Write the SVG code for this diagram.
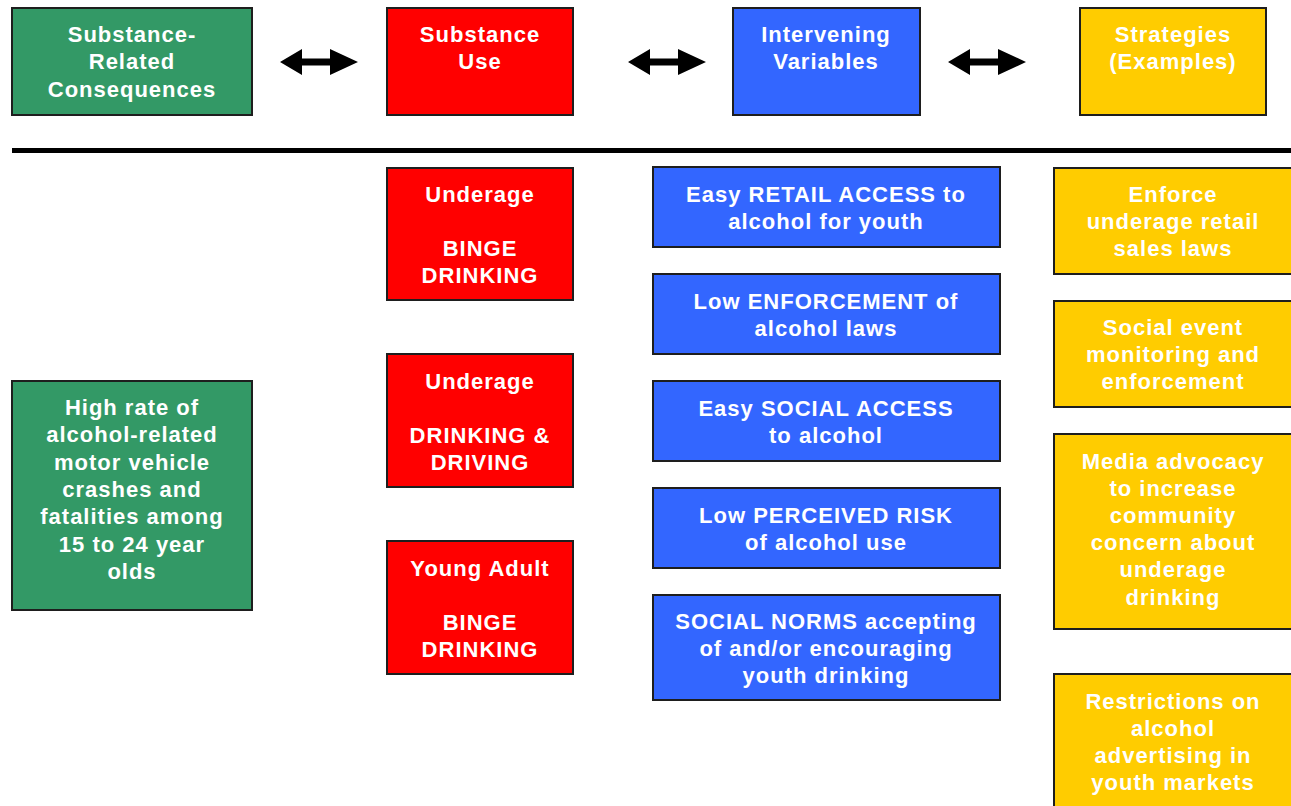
<svg xmlns="http://www.w3.org/2000/svg" width="1291" height="806" viewBox="0 0 1291 806">
  <defs>
    <style>
      .box { stroke: #1e1e1e; stroke-width: 2; }
      .green { fill: #339966; }
      .red { fill: #ff0000; }
      .blue { fill: #3366ff; }
      .yellow { fill: #ffcc00; }
      .t { font-family: "Liberation Sans", Arial, sans-serif; font-weight: bold; font-size: 22px; letter-spacing: 1px; fill: #ffffff; text-anchor: middle; dominant-baseline: central; }
    </style>
    <!-- double-headed block arrow, centred on the origin -->
    <path id="dbl" d="M-39 0 L-17 -13 L-17 -3.5 L11 -3.5 L11 -13 L39 0 L11 13 L11 3.5 L-17 3.5 L-17 13 Z" fill="#000"/>
  </defs>
  <rect width="1291" height="806" fill="#ffffff"/>

  <!-- header row -->
  <g id="hdr-consequences">
    <rect class="box green" x="12" y="8" width="240" height="107"/>
    <text class="t" x="132" y="34">Substance-</text>
    <text class="t" x="132" y="61">Related</text>
    <text class="t" x="132" y="89">Consequences</text>
  </g>
  <g id="hdr-use">
    <rect class="box red" x="387" y="8" width="186" height="107"/>
    <text class="t" x="480" y="34">Substance</text>
    <text class="t" x="480" y="61">Use</text>
  </g>
  <g id="hdr-variables">
    <rect class="box blue" x="733" y="8" width="187" height="107"/>
    <text class="t" x="826" y="34">Intervening</text>
    <text class="t" x="826" y="61">Variables</text>
  </g>
  <g id="hdr-strategies">
    <rect class="box yellow" x="1080" y="8" width="186" height="107"/>
    <text class="t" x="1173" y="34">Strategies</text>
    <text class="t" x="1173" y="61">(Examples)</text>
  </g>

  <g id="connectors">
    <use href="#dbl" x="319" y="62"/>
    <use href="#dbl" x="667" y="62"/>
    <use href="#dbl" x="987" y="62"/>
    <rect x="12" y="148" width="1279" height="5" fill="#000"/>
  </g>

  <!-- consequence -->
  <g id="consequence">
    <rect class="box green" x="12" y="381" width="240" height="229"/>
    <text class="t" x="132" y="407">High rate of</text>
    <text class="t" x="132" y="434">alcohol-related</text>
    <text class="t" x="132" y="462">motor vehicle</text>
    <text class="t" x="132" y="489">crashes and</text>
    <text class="t" x="132" y="516">fatalities among</text>
    <text class="t" x="132" y="544">15 to 24 year</text>
    <text class="t" x="132" y="571">olds</text>
  </g>

  <!-- substance use -->
  <g id="use-underage-binge">
    <rect class="box red" x="387" y="168" width="186" height="132"/>
    <text class="t" x="480" y="194">Underage</text>
    <text class="t" x="480" y="248">BINGE</text>
    <text class="t" x="480" y="275">DRINKING</text>
  </g>
  <g id="use-drink-drive">
    <rect class="box red" x="387" y="354" width="186" height="133"/>
    <text class="t" x="480" y="381">Underage</text>
    <text class="t" x="480" y="435">DRINKING &amp;</text>
    <text class="t" x="480" y="462">DRIVING</text>
  </g>
  <g id="use-young-adult">
    <rect class="box red" x="387" y="541" width="186" height="133"/>
    <text class="t" x="480" y="568">Young Adult</text>
    <text class="t" x="480" y="622">BINGE</text>
    <text class="t" x="480" y="649">DRINKING</text>
  </g>

  <!-- intervening variables -->
  <g id="var-retail">
    <rect class="box blue" x="653" y="167" width="347" height="80"/>
    <text class="t" x="826" y="194">Easy RETAIL ACCESS to</text>
    <text class="t" x="826" y="221">alcohol for youth</text>
  </g>
  <g id="var-enforcement">
    <rect class="box blue" x="653" y="274" width="347" height="80"/>
    <text class="t" x="826" y="301">Low ENFORCEMENT of</text>
    <text class="t" x="826" y="328">alcohol laws</text>
  </g>
  <g id="var-social-access">
    <rect class="box blue" x="653" y="381" width="347" height="80"/>
    <text class="t" x="826" y="408">Easy SOCIAL ACCESS</text>
    <text class="t" x="826" y="435">to alcohol</text>
  </g>
  <g id="var-risk">
    <rect class="box blue" x="653" y="488" width="347" height="80"/>
    <text class="t" x="826" y="515">Low PERCEIVED RISK</text>
    <text class="t" x="826" y="542">of alcohol use</text>
  </g>
  <g id="var-norms">
    <rect class="box blue" x="653" y="595" width="347" height="105"/>
    <text class="t" x="826" y="621">SOCIAL NORMS accepting</text>
    <text class="t" x="826" y="648">of and/or encouraging</text>
    <text class="t" x="826" y="675">youth drinking</text>
  </g>

  <!-- strategies -->
  <g id="strat-retail">
    <rect class="box yellow" x="1054" y="168" width="240" height="106"/>
    <text class="t" x="1173" y="194">Enforce</text>
    <text class="t" x="1173" y="221">underage retail</text>
    <text class="t" x="1173" y="248">sales laws</text>
  </g>
  <g id="strat-events">
    <rect class="box yellow" x="1054" y="301" width="240" height="106"/>
    <text class="t" x="1173" y="327">Social event</text>
    <text class="t" x="1173" y="354">monitoring and</text>
    <text class="t" x="1173" y="381">enforcement</text>
  </g>
  <g id="strat-media">
    <rect class="box yellow" x="1054" y="434" width="240" height="195"/>
    <text class="t" x="1173" y="461">Media advocacy</text>
    <text class="t" x="1173" y="488">to increase</text>
    <text class="t" x="1173" y="515">community</text>
    <text class="t" x="1173" y="542">concern about</text>
    <text class="t" x="1173" y="569">underage</text>
    <text class="t" x="1173" y="597">drinking</text>
  </g>
  <g id="strat-advertising">
    <rect class="box yellow" x="1054" y="674" width="240" height="140"/>
    <text class="t" x="1173" y="701">Restrictions on</text>
    <text class="t" x="1173" y="728">alcohol</text>
    <text class="t" x="1173" y="755">advertising in</text>
    <text class="t" x="1173" y="782">youth markets</text>
  </g>
</svg>
